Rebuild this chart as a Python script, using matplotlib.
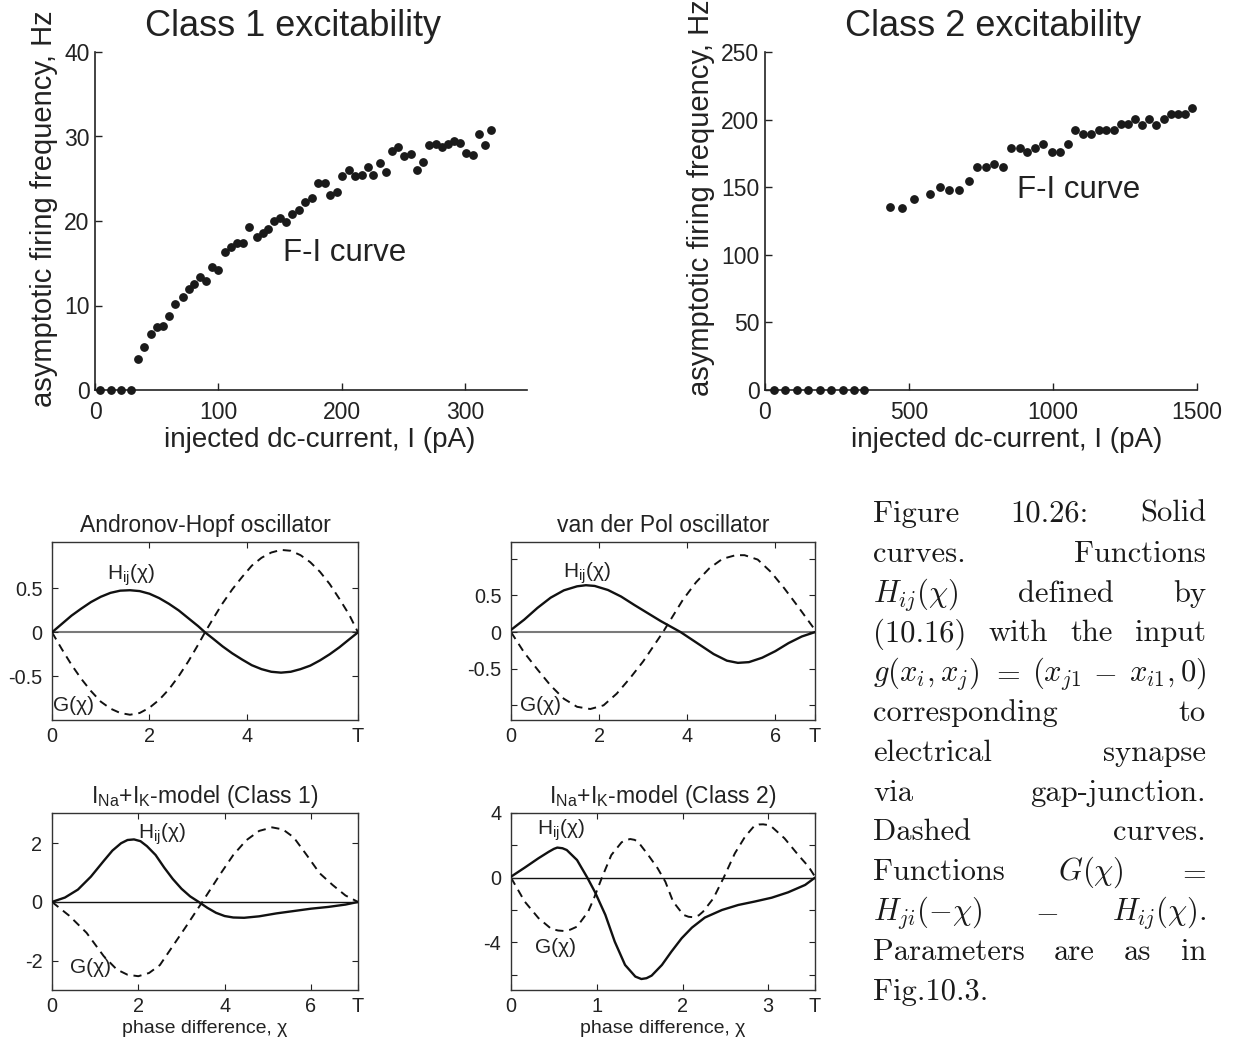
import matplotlib
matplotlib.use("Agg")
import matplotlib.pyplot as plt

plt.rcParams['font.family'] = ['Liberation Sans', 'DejaVu Sans']
plt.rcParams['mathtext.fontset'] = 'custom'
plt.rcParams['mathtext.rm'] = 'Liberation Sans'
plt.rcParams['mathtext.it'] = 'Liberation Sans:italic'

# ---- F-I curves ----
class1_current = [4, 12.6, 21, 29, 35, 40, 45, 50, 55, 60, 65, 71, 76, 80, 85, 90, 95, 100,
                  105, 110, 115, 120, 125, 131, 136, 140, 145, 150, 155, 160, 165, 170, 176,
                  181, 186, 190, 196, 200.5, 205.6, 211, 216, 221, 225.5, 231, 235.6, 240.6,
                  245.7, 250.7, 255.7, 260.5, 266, 271, 276, 281, 286, 291, 295.5, 300.5,
                  306, 311, 316, 321]
class1_freq = [0, 0, 0, 0, 3.7, 5.1, 6.6, 7.5, 7.6, 8.8, 10.2, 11.0, 12.0, 12.6, 13.4, 12.9,
               14.5, 14.2, 16.3, 16.9, 17.4, 17.4, 19.3, 18.1, 18.6, 19.1, 20.0, 20.4, 19.9,
               20.8, 21.3, 22.2, 22.7, 24.5, 24.5, 23.1, 23.4, 25.3, 26.0, 25.3, 25.4, 26.4,
               25.5, 26.9, 25.8, 28.3, 28.7, 27.7, 27.9, 26.0, 27.0, 29.0, 29.1, 28.7, 29.1,
               29.5, 29.2, 28.1, 27.8, 30.3, 29.0, 30.8]

class2_current = [30, 70, 110, 150, 190, 230, 270, 310, 345, 433, 476, 519, 572, 606, 639,
                  674, 707, 737, 766, 795, 826, 855, 884, 911, 938, 966, 996, 1026, 1053, 1075,
                  1103, 1131, 1158, 1184, 1211, 1236, 1261, 1284, 1310, 1335, 1359, 1384, 1409,
                  1434, 1458, 1483]
class2_freq = [0, 0, 0, 0, 0, 0, 0, 0, 0, 135.3, 134.6, 141.2, 145, 150, 147.6, 147.6, 154.3,
               164.7, 164.7, 167.4, 164.7, 179, 179, 175.8, 179, 182, 176, 176, 182, 192.6,
               189, 189, 192.6, 192.6, 192.6, 197, 197, 200.5, 196, 200.5, 196, 200.5, 204.4,
               204.4, 204.4, 208.6]

# ---- phase interaction functions H_ij (solid) and G (dashed) ----
ah_period = 6.28
ah_chi = [0, 0.2, 0.4, 0.6, 0.8, 1.0, 1.2, 1.4, 1.6, 1.8, 2.0, 2.2, 2.4, 2.6, 2.8, 3.0, 3.14,
          3.3, 3.5, 3.7, 3.9, 4.1, 4.3, 4.5, 4.7, 4.9, 5.1, 5.3, 5.5, 5.7, 5.9, 6.1, 6.28]
ah_h = [0, 0.095, 0.19, 0.27, 0.345, 0.405, 0.45, 0.475, 0.48, 0.47, 0.44, 0.39, 0.325, 0.25,
        0.16, 0.07, 0, -0.07, -0.16, -0.24, -0.31, -0.375, -0.42, -0.45, -0.46, -0.45, -0.42,
        -0.38, -0.32, -0.25, -0.17, -0.08, 0]
ah_g = [0, -0.19, -0.37, -0.53, -0.67, -0.79, -0.87, -0.92, -0.94, -0.92, -0.86, -0.77, -0.65,
        -0.5, -0.33, -0.14, 0, 0.15, 0.33, 0.49, 0.63, 0.76, 0.85, 0.91, 0.94, 0.93, 0.88, 0.8,
        0.69, 0.55, 0.38, 0.2, 0]

vdp_period = 6.9
vdp_chi_h = [0, 0.3, 0.6, 0.9, 1.2, 1.5, 1.7, 1.9, 2.2, 2.5, 2.8, 3.1, 3.4, 3.7, 3.85, 4.0, 4.3,
             4.6, 4.9, 5.15, 5.4, 5.7, 6.0, 6.3, 6.6, 6.9]
vdp_h = [0.03, 0.17, 0.33, 0.47, 0.57, 0.625, 0.64, 0.63, 0.575, 0.485, 0.37, 0.26, 0.15, 0.05,
         0, -0.06, -0.18, -0.3, -0.39, -0.42, -0.41, -0.35, -0.26, -0.15, -0.06, 0]
vdp_chi_g = [0, 0.3, 0.6, 0.9, 1.2, 1.5, 1.8, 2.1, 2.4, 2.7, 3.0, 3.45, 3.9, 4.2, 4.5, 4.8, 5.1,
             5.3, 5.6, 5.9, 6.2, 6.5, 6.9]
vdp_g = [0, -0.28, -0.51, -0.73, -0.91, -1.02, -1.05, -1.0, -0.84, -0.63, -0.4, 0, 0.44, 0.68,
         0.87, 1.0, 1.05, 1.05, 0.99, 0.82, 0.6, 0.36, 0.03]

c1_period = 7.09
c1_chi_h = [0, 0.3, 0.6, 0.9, 1.2, 1.4, 1.6, 1.75, 1.9, 2.05, 2.2, 2.4, 2.6, 2.8, 3.0, 3.2, 3.4,
            3.6, 3.8, 4.0, 4.2, 4.45, 4.8, 5.2, 5.6, 6.0, 6.4, 6.8, 7.09]
c1_h = [0, 0.15, 0.42, 0.86, 1.4, 1.75, 2.0, 2.11, 2.13, 2.07, 1.9, 1.6, 1.17, 0.78, 0.45, 0.19,
        0, -0.2, -0.37, -0.48, -0.53, -0.54, -0.49, -0.39, -0.31, -0.23, -0.17, -0.09, 0]
c1_chi_g = [0, 0.4, 0.8, 1.2, 1.5, 1.75, 2.0, 2.25, 2.5, 2.8, 3.1, 3.5, 3.9, 4.2, 4.5, 4.8, 5.1,
            5.35, 5.6, 5.9, 6.2, 6.5, 6.8, 7.09]
c1_g = [0, -0.47, -1.05, -1.85, -2.3, -2.48, -2.53, -2.42, -2.15, -1.5, -0.85, 0.04, 0.95, 1.6,
        2.1, 2.42, 2.54, 2.47, 2.2, 1.6, 0.98, 0.58, 0.22, 0]

c2_period = 3.545
c2_chi_h = [0, 0.16, 0.32, 0.44, 0.5, 0.54, 0.6, 0.65, 0.77, 0.89, 0.98, 1.1, 1.21, 1.33, 1.45,
            1.52, 1.58, 1.64, 1.76, 1.87, 1.99, 2.11, 2.26, 2.46, 2.65, 2.84, 3.04, 3.23, 3.43,
            3.545]
c2_h = [0.06, 0.62, 1.2, 1.6, 1.78, 1.86, 1.82, 1.71, 1.09, 0, -0.9, -2.3, -3.96, -5.4, -6.12,
        -6.27, -6.22, -6.06, -5.4, -4.58, -3.75, -3.09, -2.47, -2.0, -1.69, -1.48, -1.24, -0.91,
        -0.45, 0]
c2_chi_g = [0, 0.16, 0.32, 0.47, 0.55, 0.62, 0.69, 0.77, 0.9, 0.97, 1.06, 1.17, 1.29, 1.34,
            1.39, 1.44, 1.48, 1.6, 1.71, 1.8, 1.89, 2.01, 2.07, 2.13, 2.19, 2.24, 2.36, 2.48,
            2.61, 2.73, 2.84, 2.89, 2.94, 2.99, 3.04, 3.19, 3.35, 3.47, 3.545]
c2_g = [0, -1.48, -2.5, -3.17, -3.27, -3.3, -3.22, -3.03, -2.1, -1.24, 0, 1.4, 2.19, 2.32, 2.39,
        2.34, 2.23, 1.4, 0.58, -0.25, -1.48, -2.3, -2.42, -2.45, -2.33, -2.1, -1.28, 0, 1.5,
        2.54, 3.22, 3.29, 3.3, 3.26, 3.15, 2.43, 1.4, 0.68, 0.06]

caption_lines = [
    ["Figure", "10.26:", "Solid"],
    ["curves.", "Functions"],
    [r"$H_{ij}(\chi)$", "defined", "by"],
    ["(10.16)", "with", "the", "input"],
    [r"$g(x_i,x_j)$", r"$=$", r"$(x_{j1}$", r"$-$", r"$x_{i1},0)$"],
    ["corresponding", "to"],
    ["electrical", "synapse"],
    ["via", "gap-junction."],
    ["Dashed", "curves."],
    ["Functions", r"$G(\chi)$", r"$=$"],
    [r"$H_{ji}(-\chi)$", r"$-$", r"$H_{ij}(\chi)$."],
    ["Parameters", "are", "as", "in"],
    ["Fig.10.3."],
]

W, H = 1236, 1041
fig = plt.figure(figsize=(W / 100, H / 100), dpi=100)


def box(left, top, right, bottom):
    return [left / W, 1 - bottom / H, (right - left) / W, (bottom - top) / H]


# ---------- top row: F-I curves ----------
def fi_panel(rect, cur, freq, xlim, ylim, xticks, yticks, title, title_x, fi_xy, ylab_x, ylab_y, xlab_x):
    ax = fig.add_axes(rect)
    ax.plot(cur, freq, 'o', color='#1a1a1a', ms=5.3, clip_on=False, zorder=3)
    ax.set_xlim(*xlim)
    ax.set_ylim(*ylim)
    ax.set_xticks(xticks)
    ax.set_yticks(yticks)
    for s in ('top', 'right'):
        ax.spines[s].set_visible(False)
    for s in ('left', 'bottom'):
        ax.spines[s].set_color('#222222')
        ax.spines[s].set_linewidth(1.2)
    ax.tick_params(direction='in', length=5, width=1, labelsize=16.5, colors='#222222')
    ax.tick_params(axis='x', pad=8)
    ax.tick_params(axis='y', pad=4)
    ax.set_ylabel("asymptotic firing frequency, Hz", fontsize=21, color='#222222')
    ax.yaxis.set_label_coords(ylab_x, ylab_y)
    ax.set_xlabel("injected dc-current, I (pA)", fontsize=20, color='#222222')
    ax.xaxis.set_label_coords(xlab_x, -0.11)
    ax.text(fi_xy[0], fi_xy[1], "F-I curve", fontsize=22.5, ha='left', va='center', color='#222222')
    fig.text(title_x / W, 1 - 27 / H, title, fontsize=26, ha='center', va='center', color='#222222')
    return ax


fi_panel(box(95, 52, 527, 390), class1_current, class1_freq, (0, 350), (0, 40),
         [0, 100, 200, 300], [0, 10, 20, 30, 40], "Class 1 excitability", 293,
         (152, 16.2), -0.085, 0.535, 0.52)
fi_panel(box(765, 52, 1197, 390), class2_current, class2_freq, (0, 1500), (0, 250),
         [0, 500, 1000, 1500], [0, 50, 100, 150, 200, 250], "Class 2 excitability", 993,
         (875, 148), -0.115, 0.57, 0.56)


# ---------- bottom: phase functions ----------
def phase_panel(rect, chi_h, h, chi_g, g, period, ylim, xticks, xlabels, yticks, ylabels,
                title, h_xy, g_xy, zero_color, zero_lw, xlabel=False):
    ax = fig.add_axes(rect)
    ax.axhline(0, color=zero_color, lw=zero_lw, zorder=1)
    ax.plot(chi_h, h, color='#111111', lw=1.7, zorder=3,
            solid_joinstyle='round', solid_capstyle='round')
    ax.plot(chi_g, g, color='#111111', lw=1.4, ls=(0, (4.2, 3.0)), zorder=2,
            dash_joinstyle='round')
    ax.set_xlim(0, period)
    ax.set_ylim(*ylim)
    ax.set_xticks(xticks)
    ax.set_xticklabels(xlabels)
    ax.set_yticks(yticks)
    ax.set_yticklabels(ylabels)
    for s in ax.spines.values():
        s.set_color('#333333')
        s.set_linewidth(1.0)
    ax.tick_params(direction='in', length=4, width=0.8, labelsize=14.3,
                   top=True, right=True, colors='#222222')
    ax.tick_params(axis='x', pad=5)
    ax.tick_params(axis='y', pad=7)
    ax.set_title(title, fontsize=16.5, pad=7, color='#222222')
    ax.text(h_xy[0], h_xy[1], r"H$_{\mathregular{ij}}$(χ)", fontsize=15, ha='center', va='center',
            color='#222222')
    ax.text(g_xy[0], g_xy[1], "G(χ)", fontsize=15, ha='center', va='center', color='#222222')
    if xlabel:
        ax.set_xlabel("phase difference, χ", fontsize=14, labelpad=3, color='#222222')
    return ax


phase_panel(box(52, 542, 358, 720), ah_chi, ah_h, ah_chi, ah_g, ah_period, (-1.0, 1.03),
            [0, 2, 4, ah_period], ['0', '2', '4', 'T'], [-0.5, 0, 0.5], ['-0.5', '0', '0.5'],
            "Andronov-Hopf oscillator", (1.62, 0.65), (0.45, -0.84), '#7a7a7a', 1.5)
phase_panel(box(511, 542, 815, 720), vdp_chi_h, vdp_h, vdp_chi_g, vdp_g, vdp_period, (-1.2, 1.23),
            [0, 2, 4, 6, vdp_period], ['0', '2', '4', '6', 'T'], [-1, -0.5, 0, 0.5, 1],
            ['', '-0.5', '0', '0.5', ''], "van der Pol oscillator", (1.72, 0.81), (0.68, -1.0),
            '#7a7a7a', 1.5)
phase_panel(box(52, 813, 358, 990), c1_chi_h, c1_h, c1_chi_g, c1_g, c1_period, (-3, 3.03),
            [0, 2, 4, 6, c1_period], ['0', '2', '4', '6', 'T'], [-2, 0, 2], ['-2', '0', '2'],
            r"I$_{\mathregular{Na}}$+I$_{\mathregular{K}}$-model (Class 1)", (2.55, 2.29),
            (0.89, -2.24), '#111111', 1.0, xlabel=True)
phase_panel(box(511, 813, 815, 990), c2_chi_h, c2_h, c2_chi_g, c2_g, c2_period, (-6.95, 4.0),
            [0, 1, 2, 3, c2_period], ['0', '1', '2', '3', 'T'], [-6, -4, -2, 0, 2, 4],
            ['', '-4', '', '0', '', '4'],
            r"I$_{\mathregular{Na}}$+I$_{\mathregular{K}}$-model (Class 2)", (0.58, 2.95),
            (0.52, -4.33), '#111111', 1.0, xlabel=True)

# ---------- caption, justified line by line ----------
renderer = fig.canvas.get_renderer()
x0, x1 = 873, 1206
base0, step = 522, 39.8
for i, words in enumerate(caption_lines):
    texts = [fig.text(0, 0, w, fontsize=22, family='cmr10', math_fontfamily='cm',
                      ha='left', va='baseline', color='#1a1a1a') for w in words]
    widths = [t.get_window_extent(renderer).width for t in texts]
    last = i == len(caption_lines) - 1
    if len(words) > 1 and not last:
        gap = (x1 - x0 - sum(widths)) / (len(words) - 1)
    else:
        gap = 8
    x = x0
    y = base0 + i * step
    for t, w in zip(texts, widths):
        t.set_position((x / W, 1 - y / H))
        x += w + gap

fig.savefig("out.png", dpi=100)
